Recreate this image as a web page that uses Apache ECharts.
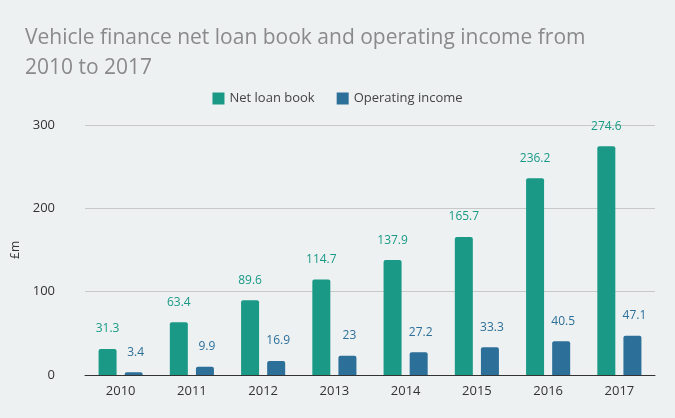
<!DOCTYPE html>
<html>
<head>
<meta charset="UTF-8">
<title>Vehicle finance</title>
<script src="https://cdn.jsdelivr.net/npm/echarts@6/dist/echarts.min.js"></script>
<style>
  html, body { margin: 0; height: 100%; background: #edf1f2; }
  #chart { width: 675px; height: 418px; }
</style>
</head>
<body>
<div id="chart"></div>
<script>
  // data
  const years = ['2010', '2011', '2012', '2013', '2014', '2015', '2016', '2017'];
  const netLoanBook = [31.3, 63.4, 89.6, 114.7, 137.9, 165.7, 236.2, 274.6];
  const operatingIncome = [3.4, 9.9, 16.9, 23, 27.2, 33.3, 40.5, 47.1];

  const green = '#1a9a86';
  const blue = '#2c6f99';

  let chart = echarts.init(document.getElementById('chart'));
  chart.setOption({
    backgroundColor: '#edf1f2',
    textStyle: { fontFamily: 'Open Sans' },
    title: {
      text: 'Vehicle finance net loan book and operating income from\n2010 to 2017',
      left: 20, top: 18,
      textStyle: { color: '#8a8a8a', fontSize: 21, fontWeight: 'normal', lineHeight: 30, fontFamily: 'Open Sans' }
    },
    legend: {
      top: 87, left: 'center', itemWidth: 12, itemHeight: 12, itemGap: 22,
      icon: 'rect',
      textStyle: { color: '#444', fontSize: 13 },
      data: ['Net loan book', 'Operating income']
    },
    grid: { left: 85, right: 20, top: 125, bottom: 43 },
    xAxis: {
      type: 'category', data: years,
      axisLine: { lineStyle: { color: '#333' } },
      axisTick: { show: false },
      axisLabel: { color: '#333', fontSize: 13, margin: 10 }
    },
    yAxis: {
      type: 'value', min: 0, max: 300, interval: 100,
      name: '£m', nameLocation: 'middle', nameGap: 50, nameRotate: 90,
      nameTextStyle: { color: '#333', fontSize: 12 },
      axisLabel: { color: '#333', fontSize: 13, margin: 30 },
      splitLine: { lineStyle: { color: '#c8c8c8' } }
    },
    series: [
      {
        name: 'Net loan book', type: 'bar', data: netLoanBook,
        barWidth: 18, barGap: '45%',
        itemStyle: { color: green, borderRadius: [2, 2, 0, 0] },
        label: { show: true, position: 'top', distance: 14, color: green, fontSize: 12 }
      },
      {
        name: 'Operating income', type: 'bar', data: operatingIncome,
        barWidth: 18,
        itemStyle: { color: blue, borderRadius: [2, 2, 0, 0] },
        label: { show: true, position: 'top', distance: 14, offset: [2, 0], color: blue, fontSize: 12 }
      }
    ]
  });
</script>
</body>
</html>
